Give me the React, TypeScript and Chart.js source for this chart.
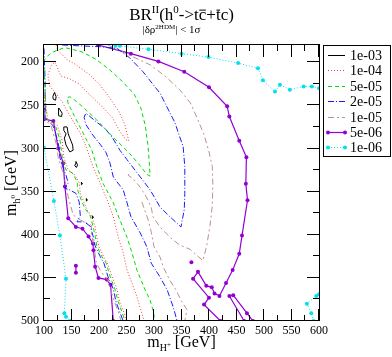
import React, { useEffect, useRef } from "react";
import { Chart, registerables } from "chart.js";
Chart.register(...registerables);

const W = 392;
const H = 357;
const SERIF = '"Liberation Serif", "Times New Roman", serif';

const X_MIN = 100, X_MAX = 600, Y_MIN = 180, Y_MAX = 500;
const X_MAJOR = [100, 150, 200, 250, 300, 350, 400, 450, 500, 550, 600];
const X_MINOR = [125, 175, 225, 275, 325, 375, 425, 475, 525, 575];
const Y_MAJOR = [200, 250, 300, 350, 400, 450, 500];
const Y_MINOR = [225, 275, 325, 375, 425, 475];
const LEVELS = ["1e-03", "1e-04", "5e-05", "2e-05", "1e-05", "5e-06", "1e-06"];

// ---- contour pieces (mH+ [GeV], mh0 [GeV]) ----
// 1e-03
const c1e3_loop1 = [[119, 235], [122, 240], [121, 244], [117, 243], [116, 240], [119, 235]];
const c1e3_loop2 = [[127, 253], [133, 259], [132, 263], [127, 262], [126, 258], [127, 253]];
const c1e3_loop3 = [[136, 275], [142, 275], [144, 283], [152, 296], [153, 302], [147, 304], [140, 296], [137, 288], [140, 283], [136, 279], [136, 275]];
const c1e3_loop4 = [[158, 315], [161, 319], [159, 322], [156, 320], [157, 318], [158, 315]];
const c1e3_dot1 = [[168, 339], [170, 341], [168, 342], [168, 339]];
const c1e3_dot2 = [[177, 358], [179, 360], [177, 361], [177, 358]];
const c1e3_dot3 = [[188, 378], [190, 380], [188, 381], [188, 378]];
// 1e-04
const c1e4_main = [[122, 180], [125, 186], [142, 197], [156, 202], [182, 214], [200, 225], [218, 240], [236, 257], [247, 272], [254, 291], [249, 290], [238, 280], [224, 264], [205, 251], [182, 237], [164, 225], [146, 219], [131, 216], [124, 206], [120, 200], [113, 204], [107, 215], [111, 228], [125, 239], [133, 246], [147, 262], [164, 280], [175, 295], [189, 321], [202, 340], [215, 360], [226, 379], [235, 403], [244, 421], [251, 441], [260, 456], [269, 472], [278, 491], [282, 500]];
const c1e4_ridge = [[100, 234], [107, 267], [124, 273], [133, 291], [136, 310], [144, 325], [155, 330], [164, 339], [166, 352], [173, 363], [178, 371], [187, 379], [193, 391], [196, 403], [200, 414], [209, 426], [216, 434], [224, 449], [233, 464], [238, 479], [246, 491], [249, 500]];
// 5e-05
const c5e5_main = [[100, 200], [102, 196], [111, 190], [124, 186], [138, 183], [169, 188], [193, 196], [218, 208], [242, 222], [264, 237], [276, 253], [284, 273], [289, 296], [291, 313], [293, 332], [287, 330], [275, 320], [256, 306], [226, 287], [196, 267], [171, 252], [156, 244], [147, 240], [142, 241], [144, 248], [155, 262], [175, 287], [187, 302], [196, 321], [207, 340], [226, 363], [238, 383], [251, 403], [260, 421], [269, 441], [284, 464], [293, 476], [298, 487], [302, 500]];
const c5e5_ridge = [[100, 207], [102, 232], [104, 265], [120, 272], [129, 290], [133, 309], [140, 325], [151, 328], [160, 338], [162, 350], [169, 362], [175, 370], [184, 378], [189, 390], [193, 401], [196, 413], [205, 425], [213, 433], [220, 448], [229, 463], [235, 478], [242, 490], [247, 500]];
// 2e-05
const c2e5_main = [[133, 180], [166, 181], [202, 182], [233, 184], [256, 195], [280, 211], [311, 236], [338, 270], [353, 298], [356, 321], [356, 352], [355, 371], [349, 391], [329, 379], [311, 368], [293, 348], [275, 333], [251, 313], [238, 302], [224, 287], [211, 277], [193, 268], [182, 262], [176, 259], [173, 264], [176, 272], [187, 283], [202, 295], [213, 305], [220, 317], [226, 333], [244, 348], [251, 363], [258, 379], [275, 398], [287, 414], [295, 433], [311, 449], [324, 464], [335, 484], [342, 500]];
const c2e5_ridge = [[100, 184], [102, 221], [102, 265], [116, 273], [126, 293], [129, 311], [136, 325], [140, 331], [144, 340], [138, 346], [147, 348], [158, 352], [164, 362], [166, 378], [160, 385], [173, 385], [184, 390], [189, 401], [193, 413], [202, 425], [209, 433], [216, 448], [226, 463], [231, 478], [238, 490], [244, 500]];
// 1e-05
const c1e5_wedge = [[216, 180], [256, 192], [293, 203], [320, 216], [347, 232], [366, 247], [378, 264], [391, 284], [400, 304], [406, 321], [407, 342], [406, 366], [402, 389], [396, 412], [389, 430], [378, 424], [366, 417], [347, 412], [329, 403], [311, 391], [298, 379], [295, 368], [286, 356], [275, 345], [262, 335], [253, 331], [258, 327]];
const c1e5_outer = [[278, 362], [289, 382], [295, 397], [300, 414], [311, 426], [318, 439], [329, 453], [340, 464], [349, 476], [360, 487], [356, 500]];
const c1e5_ridge = [[100, 244], [100, 265], [113, 274], [122, 294], [126, 311], [133, 325], [140, 342], [144, 356], [153, 377], [166, 383], [186, 389], [187, 401], [191, 415], [195, 432], [202, 441], [209, 447], [216, 453], [222, 466], [229, 479], [236, 491], [240, 500]];
// 5e-06
const c5e6_main = [[198, 180], [258, 190], [308, 199], [355, 211], [400, 229], [433, 251], [437, 263], [455, 291], [468, 310], [467, 341], [470, 360], [460, 401], [455, 422], [443, 441], [431, 456], [419, 471], [410, 468], [405, 461], [395, 459], [380, 443], [371, 451], [400, 473], [391, 481], [421, 500]];
const c5e6_pocket = [[464, 500], [437, 471], [444, 470], [469, 491], [480, 500]];
const c5e6_left = [[100, 255], [100, 266], [117, 268], [126, 300], [135, 317], [138, 344], [144, 381], [158, 391], [170, 393], [181, 402], [189, 410], [190, 418], [193, 437], [199, 450], [214, 452], [221, 458], [226, 500]];
const c5e6_spike = [[158, 436], [158, 444]];
const c5e6_dot = [[368, 432]];
// 1e-06
const c1e6_top = [[230, 181], [238, 181], [290, 185], [350, 190], [399, 194], [453, 201], [489, 207], [498, 221], [520, 234], [529, 226], [547, 232], [572, 228], [587, 228], [600, 230]];
const c1e6_left = [[100, 299], [118, 361], [129, 401], [140, 451], [137, 491], [140, 495], [148, 500]];
const c1e6_right = [[600, 469], [595, 471], [578, 480], [586, 491], [590, 500]];

const GROUPS = [
  [c1e3_loop1, c1e3_loop2, c1e3_loop3, c1e3_loop4, c1e3_dot1, c1e3_dot2, c1e3_dot3],
  [c1e4_main, c1e4_ridge],
  [c5e5_main, c5e5_ridge],
  [c2e5_main, c2e5_ridge],
  [c1e5_wedge, c1e5_outer, c1e5_ridge],
  [c5e6_main, c5e6_pocket, c5e6_left, c5e6_spike, c5e6_dot],
  [c1e6_top, c1e6_left, c1e6_right],
];

const STYLES = [
  { color: "#000000", dash: [] as number[], width: 1, marker: false },
  { color: "#ff3838", dash: [1, 2], width: 1, marker: false },
  { color: "#00dd00", dash: [4, 3], width: 1, marker: false },
  { color: "#1a1aff", dash: [6, 2, 1, 2], width: 1, marker: false },
  { color: "#bc8f8f", dash: [6, 3, 2, 3], width: 1, marker: false },
  { color: "#9400d3", dash: [] as number[], width: 1.2, marker: true },
  { color: "#00e0ee", dash: [1, 2], width: 1, marker: true },
];

function joinPieces(pieces: number[][][]) {
  const out: { x: number; y: number }[] = [];
  pieces.forEach((p, i) => {
    if (i > 0) out.push({ x: NaN, y: NaN });
    p.forEach(([x, y]) => out.push({ x, y }));
  });
  return out;
}

type Piece = { t: string; s: number; dy?: number; over?: boolean };

function richWidth(ctx: CanvasRenderingContext2D, pieces: Piece[]) {
  let w = 0;
  for (const p of pieces) {
    ctx.font = `${p.s}px ${SERIF}`;
    w += ctx.measureText(p.t).width;
  }
  return w;
}

function drawRich(ctx: CanvasRenderingContext2D, pieces: Piece[], x: number, y: number) {
  let cx = x;
  for (const p of pieces) {
    ctx.font = `${p.s}px ${SERIF}`;
    const w = ctx.measureText(p.t).width;
    ctx.fillText(p.t, cx, y + (p.dy || 0));
    if (p.over) {
      ctx.beginPath();
      ctx.lineWidth = 1;
      ctx.moveTo(cx + 0.5, y - p.s * 0.58);
      ctx.lineTo(cx + w - 0.5, y - p.s * 0.58);
      ctx.stroke();
    }
    cx += w;
  }
}

const decorPlugin = {
  id: "decor",
  afterDraw(chart: any) {
    const { ctx, chartArea: a, scales } = chart;
    const xs = scales.x, ys = scales.y;
    ctx.save();
    ctx.strokeStyle = "#000";
    ctx.fillStyle = "#000";
    ctx.lineWidth = 1;
    ctx.setLineDash([]);
    ctx.strokeRect(a.left - 0.5, a.top - 0.5, a.right - a.left + 1, a.bottom - a.top);
    const seg = (x1: number, y1: number, x2: number, y2: number) => {
      ctx.beginPath();
      ctx.moveTo(x1, y1);
      ctx.lineTo(x2, y2);
      ctx.stroke();
    };
    const xt = (vals: number[], len: number) =>
      vals.forEach((v) => {
        const px = Math.round(xs.getPixelForValue(v)) - 0.5;
        seg(px, a.bottom, px, a.bottom - len);
        seg(px, a.top, px, a.top + len);
      });
    const yt = (vals: number[], len: number) =>
      vals.forEach((v) => {
        const py = Math.round(ys.getPixelForValue(v)) - 0.5;
        seg(a.left, py, a.left + len, py);
        seg(a.right, py, a.right - len, py);
      });
    xt(X_MAJOR, 12);
    xt(X_MINOR, 6);
    yt(Y_MAJOR, 12);
    yt(Y_MINOR, 6);

    ctx.textBaseline = "alphabetic";
    ctx.textAlign = "left";
    const title: Piece[] = [
      { t: "BR", s: 17 },
      { t: "II", s: 11, dy: -7 },
      { t: "(h", s: 17 },
      { t: "0", s: 11, dy: -7 },
      { t: "->t", s: 17 },
      { t: "c", s: 17, over: true },
      { t: "+", s: 17 },
      { t: "t", s: 17, over: true },
      { t: "c)", s: 17 },
    ];
    const cxm = (a.left + a.right) / 2;
    drawRich(ctx, title, cxm - richWidth(ctx, title) / 2, 20);
    const sub: Piece[] = [
      { t: "|\u03B4\u03C1", s: 11 },
      { t: "2HDM", s: 7, dy: -4 },
      { t: "| < 1\u03C3", s: 11 },
    ];
    drawRich(ctx, sub, 171.5 - richWidth(ctx, sub) / 2, 33);

    const xtitle: Piece[] = [
      { t: "m", s: 16 },
      { t: "H", s: 10, dy: 4 },
      { t: "+", s: 7, dy: 0 },
      { t: " [GeV]", s: 16 },
    ];
    drawRich(ctx, xtitle, cxm - richWidth(ctx, xtitle) / 2, 347);

    const ytitle: Piece[] = [
      { t: "m", s: 16 },
      { t: "h", s: 10, dy: 4 },
      { t: "0", s: 7, dy: -1 },
      { t: " [GeV]", s: 16 },
    ];
    ctx.save();
    ctx.translate(16, (a.top + a.bottom) / 2);
    ctx.rotate(-Math.PI / 2);
    drawRich(ctx, ytitle, -richWidth(ctx, ytitle) / 2, 0);
    ctx.restore();

    const lx = 323, ly = 45, lw = 68, lh = 112;
    ctx.fillStyle = "#fff";
    ctx.fillRect(lx, ly, lw, lh);
    ctx.strokeStyle = "#000";
    ctx.lineWidth = 1;
    ctx.strokeRect(lx + 0.5, ly + 0.5, lw - 1, lh - 1);
    ctx.font = `14px ${SERIF}`;
    ctx.textBaseline = "middle";
    LEVELS.forEach((lab, i) => {
      const st = STYLES[i];
      const y = Math.round(55 + i * 15.4) + 0.5;
      ctx.strokeStyle = st.color;
      ctx.lineWidth = st.width;
      ctx.setLineDash(st.dash);
      seg(328, y, 345, y);
      ctx.setLineDash([]);
      if (st.marker) {
        ctx.fillStyle = st.color;
        [328, 345].forEach((mx) => {
          ctx.beginPath();
          ctx.arc(mx, y, 2, 0, Math.PI * 2);
          ctx.fill();
        });
      }
      ctx.fillStyle = "#000";
      ctx.fillText(lab, 350, y + 0.5);
    });
    ctx.restore();
  },
};

export default function App() {
  const ref = useRef<HTMLCanvasElement>(null);
  useEffect(() => {
    const datasets = LEVELS.map((label, i) => {
      const st = STYLES[i];
      return {
        label,
        data: joinPieces(GROUPS[i]),
        showLine: true,
        spanGaps: false,
        tension: 0,
        fill: false,
        borderColor: st.color,
        borderWidth: st.width,
        borderDash: st.dash,
        pointRadius: st.marker ? 2 : 0,
        pointHoverRadius: 0,
        pointBackgroundColor: st.color,
        pointBorderColor: st.color,
        pointBorderWidth: 0,
      };
    });
    const tickFont = { family: SERIF, size: 12 };
    const chart = new Chart(ref.current as HTMLCanvasElement, {
      type: "scatter",
      data: { datasets: datasets as any },
      plugins: [decorPlugin],
      options: {
        responsive: false,
        animation: false,
        devicePixelRatio: 1,
        layout: { padding: { left: 0, top: 45, right: 73, bottom: 0 } },
        plugins: { legend: { display: false }, title: { display: false }, tooltip: { enabled: false } },
        events: [],
        scales: {
          x: {
            type: "linear",
            min: X_MIN,
            max: X_MAX,
            grid: { display: false, drawTicks: false, tickLength: 0 },
            border: { display: false },
            ticks: { font: tickFont, color: "#000", padding: 3, autoSkip: false, maxRotation: 0 },
            afterBuildTicks: (s: any) => { s.ticks = X_MAJOR.map((v) => ({ value: v })); },
            afterFit: (s: any) => { s.height = 36; },
          },
          y: {
            type: "linear",
            min: Y_MIN,
            max: Y_MAX,
            reverse: true,
            grid: { display: false, drawTicks: false, tickLength: 0 },
            border: { display: false },
            ticks: { font: tickFont, color: "#000", padding: 5, autoSkip: false },
            afterBuildTicks: (s: any) => { s.ticks = Y_MAJOR.map((v) => ({ value: v })); },
            afterFit: (s: any) => { s.width = 44; },
          },
        },
      } as any,
    });
    return () => chart.destroy();
  }, []);
  return (
    <div style={{ position: "absolute", left: 0, top: 0, width: W, height: H, background: "#fff" }}>
      <canvas ref={ref} width={W} height={H} style={{ display: "block", width: W, height: H }} />
    </div>
  );
}
